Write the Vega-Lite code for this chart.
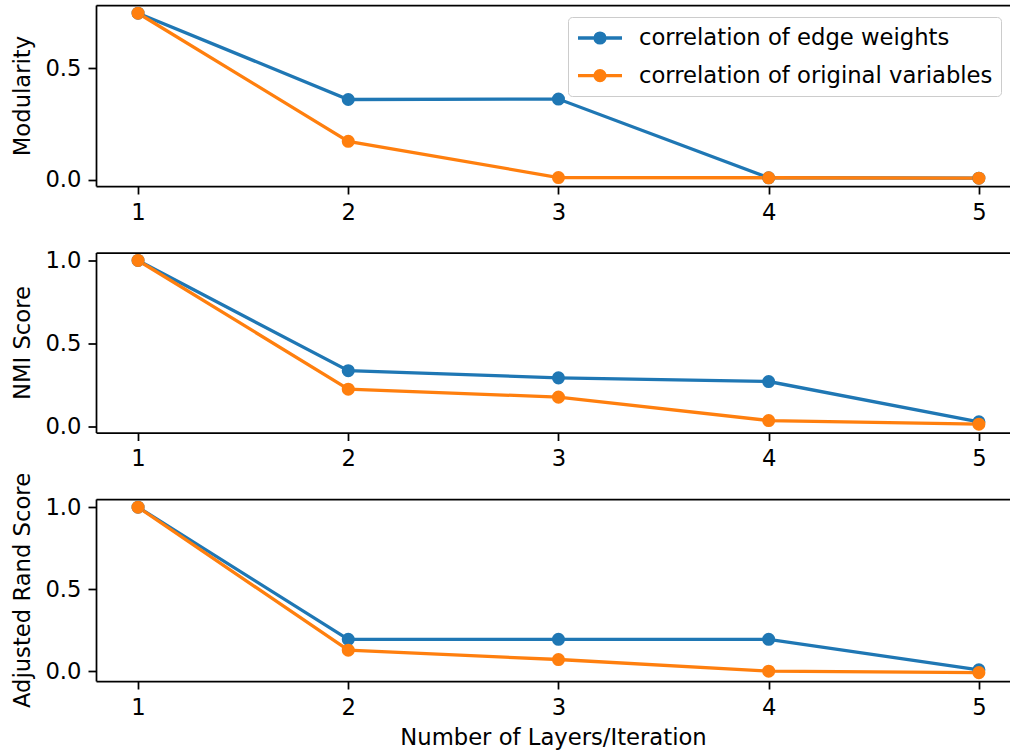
{
  "$schema": "https://vega.github.io/schema/vega-lite/v6.json",
  "padding": {"left": 11, "top": 5, "right": 0, "bottom": 0},
  "background": "white",
  "config": {
    "font": "DejaVu Sans",
    "view": {"stroke": null},
    "axis": {
      "grid": false,
      "domainColor": "black",
      "domainWidth": 1.75,
      "tickColor": "black",
      "tickWidth": 1.75,
      "tickSize": 8,
      "labelPadding": 7,
      "labelFontSize": 22.7,
      "labelColor": "black",
      "titleFontSize": 22.7,
      "titleFontWeight": "normal",
      "titleColor": "black"
    }
  },
  "data": {
    "values": [
      {"metric": "Modularity", "series": "correlation of edge weights", "iteration": 1, "value": 0.748},
      {"metric": "Modularity", "series": "correlation of edge weights", "iteration": 2, "value": 0.360},
      {"metric": "Modularity", "series": "correlation of edge weights", "iteration": 3, "value": 0.362},
      {"metric": "Modularity", "series": "correlation of edge weights", "iteration": 4, "value": 0.008},
      {"metric": "Modularity", "series": "correlation of edge weights", "iteration": 5, "value": 0.006},
      {"metric": "Modularity", "series": "correlation of original variables", "iteration": 1, "value": 0.748},
      {"metric": "Modularity", "series": "correlation of original variables", "iteration": 2, "value": 0.172},
      {"metric": "Modularity", "series": "correlation of original variables", "iteration": 3, "value": 0.009},
      {"metric": "Modularity", "series": "correlation of original variables", "iteration": 4, "value": 0.008},
      {"metric": "Modularity", "series": "correlation of original variables", "iteration": 5, "value": 0.006},
      {"metric": "NMI", "series": "correlation of edge weights", "iteration": 1, "value": 1.0},
      {"metric": "NMI", "series": "correlation of edge weights", "iteration": 2, "value": 0.336},
      {"metric": "NMI", "series": "correlation of edge weights", "iteration": 3, "value": 0.293},
      {"metric": "NMI", "series": "correlation of edge weights", "iteration": 4, "value": 0.271},
      {"metric": "NMI", "series": "correlation of edge weights", "iteration": 5, "value": 0.028},
      {"metric": "NMI", "series": "correlation of original variables", "iteration": 1, "value": 1.0},
      {"metric": "NMI", "series": "correlation of original variables", "iteration": 2, "value": 0.225},
      {"metric": "NMI", "series": "correlation of original variables", "iteration": 3, "value": 0.177},
      {"metric": "NMI", "series": "correlation of original variables", "iteration": 4, "value": 0.036},
      {"metric": "NMI", "series": "correlation of original variables", "iteration": 5, "value": 0.014},
      {"metric": "ARI", "series": "correlation of edge weights", "iteration": 1, "value": 1.0},
      {"metric": "ARI", "series": "correlation of edge weights", "iteration": 2, "value": 0.194},
      {"metric": "ARI", "series": "correlation of edge weights", "iteration": 3, "value": 0.194},
      {"metric": "ARI", "series": "correlation of edge weights", "iteration": 4, "value": 0.194},
      {"metric": "ARI", "series": "correlation of edge weights", "iteration": 5, "value": 0.008},
      {"metric": "ARI", "series": "correlation of original variables", "iteration": 1, "value": 1.0},
      {"metric": "ARI", "series": "correlation of original variables", "iteration": 2, "value": 0.128},
      {"metric": "ARI", "series": "correlation of original variables", "iteration": 3, "value": 0.071},
      {"metric": "ARI", "series": "correlation of original variables", "iteration": 4, "value": 0.0},
      {"metric": "ARI", "series": "correlation of original variables", "iteration": 5, "value": -0.009}
    ]
  },
  "spacing": 66.5,
  "bounds": "flush",
  "resolve": {"legend": {"color": "independent"}, "scale": {"y": "independent"}},
  "vconcat": [
    {
      "width": 914,
      "height": 181,
      "transform": [{"filter": "datum.metric === 'Modularity'"}],
      "layer": [
        {
          "mark": {"type": "line", "strokeWidth": 3.3},
          "encoding": {
            "x": {"field": "iteration", "type": "quantitative", "scale": {"domain": [0.8, 5.148], "nice": false, "zero": false},
                  "axis": {"values": [1, 2, 3, 4, 5], "format": "d", "title": null}},
            "y": {"field": "value", "type": "quantitative", "scale": {"domain": [-0.029, 0.785], "nice": false, "zero": false},
                  "axis": {"values": [0, 0.5], "format": ".1f", "title": "Modularity", "titlePadding": 10}},
            "color": {"field": "series", "type": "nominal",
                      "scale": {"domain": ["correlation of edge weights", "correlation of original variables"], "range": ["#1f77b4", "#ff7f0e"]},
                      "legend": {"title": null, "orient": "none", "legendX": 472, "legendY": 12,
                                 "labelFontSize": 22.7, "labelColor": "black", "labelOffset": 37, "labelLimit": 0,
                                 "symbolType": "M-1,0L3,0M1.45,0A0.45,0.45,0,1,1,0.55,0A0.45,0.45,0,1,1,1.45,0Z",
                                 "symbolSize": 484, "symbolStrokeWidth": 3.3,
                                 "rowPadding": 12.7, "padding": 8, "strokeColor": "#cccccc", "fillColor": "rgba(255,255,255,0.8)", "cornerRadius": 4,
                                 "encode": {"symbols": {"update": {"fill": {"scale": "color", "field": "value"}, "stroke": {"scale": "color", "field": "value"}, "opacity": {"value": 1}}}}}}
          }
        },
        {
          "mark": {"type": "point", "filled": true, "size": 170, "opacity": 1},
          "encoding": {
            "x": {"field": "iteration", "type": "quantitative",
                  "axis": {"orient": "top", "labels": false, "ticks": false, "title": null, "domain": true}},
            "y": {"field": "value", "type": "quantitative"},
            "color": {"field": "series", "type": "nominal"}
          }
        }
      ],
      "resolve": {"axis": {"x": "independent"}}
    },
    {
      "width": 914,
      "height": 180,
      "transform": [{"filter": "datum.metric === 'NMI'"}],
      "layer": [
        {
          "mark": {"type": "line", "strokeWidth": 3.3},
          "encoding": {
            "x": {"field": "iteration", "type": "quantitative", "scale": {"domain": [0.8, 5.148], "nice": false, "zero": false},
                  "axis": {"values": [1, 2, 3, 4, 5], "format": "d", "title": null}},
            "y": {"field": "value", "type": "quantitative", "scale": {"domain": [-0.036, 1.048], "nice": false, "zero": false},
                  "axis": {"values": [0, 0.5, 1], "format": ".1f", "title": "NMI Score", "titlePadding": 10}},
            "color": {"field": "series", "type": "nominal",
                      "scale": {"domain": ["correlation of edge weights", "correlation of original variables"], "range": ["#1f77b4", "#ff7f0e"]},
                      "legend": null}
          }
        },
        {
          "mark": {"type": "point", "filled": true, "size": 170, "opacity": 1},
          "encoding": {
            "x": {"field": "iteration", "type": "quantitative",
                  "axis": {"orient": "top", "labels": false, "ticks": false, "title": null, "domain": true}},
            "y": {"field": "value", "type": "quantitative"},
            "color": {"field": "series", "type": "nominal", "legend": null}
          }
        }
      ],
      "resolve": {"axis": {"x": "independent"}}
    },
    {
      "width": 914,
      "height": 182,
      "transform": [{"filter": "datum.metric === 'ARI'"}],
      "layer": [
        {
          "mark": {"type": "line", "strokeWidth": 3.3},
          "encoding": {
            "x": {"field": "iteration", "type": "quantitative", "scale": {"domain": [0.8, 5.148], "nice": false, "zero": false},
                  "axis": {"values": [1, 2, 3, 4, 5], "format": "d", "title": "Number of Layers/Iteration", "titlePadding": 8}},
            "y": {"field": "value", "type": "quantitative", "scale": {"domain": [-0.06, 1.05], "nice": false, "zero": false},
                  "axis": {"values": [0, 0.5, 1], "format": ".1f", "title": "Adjusted Rand Score", "titlePadding": 10}},
            "color": {"field": "series", "type": "nominal",
                      "scale": {"domain": ["correlation of edge weights", "correlation of original variables"], "range": ["#1f77b4", "#ff7f0e"]},
                      "legend": null}
          }
        },
        {
          "mark": {"type": "point", "filled": true, "size": 170, "opacity": 1},
          "encoding": {
            "x": {"field": "iteration", "type": "quantitative",
                  "axis": {"orient": "top", "labels": false, "ticks": false, "title": null, "domain": true}},
            "y": {"field": "value", "type": "quantitative"},
            "color": {"field": "series", "type": "nominal", "legend": null}
          }
        }
      ],
      "resolve": {"axis": {"x": "independent"}}
    }
  ]
}
